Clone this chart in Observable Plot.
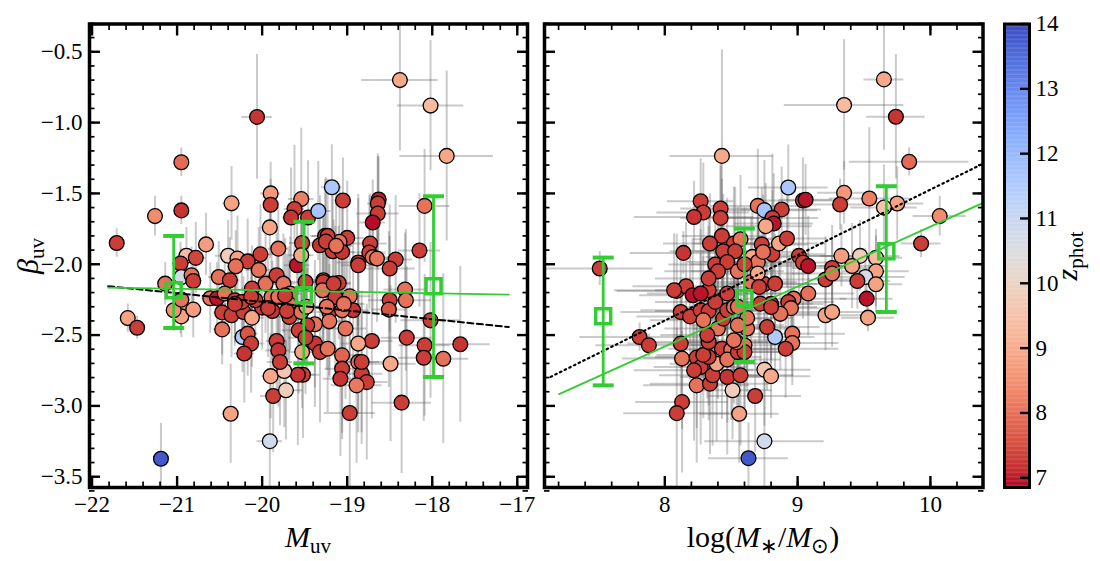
<!DOCTYPE html>
<html><head><meta charset="utf-8">
<script src="https://cdn.jsdelivr.net/npm/d3@7"></script>
<script src="https://cdn.jsdelivr.net/npm/@observablehq/plot@0.6"></script>
<style>
html,body{margin:0;padding:0;background:#fff;}
#wrap{position:relative;width:1100px;height:561px;overflow:hidden;font-family:"Liberation Serif","Times New Roman",serif;color:#000;}
#wrap svg text{font-family:"Liberation Serif","Times New Roman",serif;}
.lab{position:absolute;white-space:nowrap;font-size:30px;line-height:1;transform:translate(-50%,-50%);}
.lab.rot{transform:translate(-50%,-50%) rotate(-90deg);}
.lab sub{font-size:0.7em;vertical-align:-0.28em;line-height:0;}
.lab i{font-style:italic;}
</style></head><body><div id="wrap"></div>
<script>
// ---------------- data: left panel (M_uv vs beta) ----------------
const leftMuv = [
-20.06,-20.95,-21.26,-20.95,-21.71,-20.36,-19.90,-19.90,-19.91,-19.54,
-19.62,-19.66,-19.46,-20.66,-19.81,-20.02,-20.40,-20.29,-20.89,-20.78,
-20.17,-19.53,-18.38,-18.02,-17.83,-19.18,-19.34,-19.05,-18.63,-18.64,
-18.64,-18.70,-18.09,-19.26,-19.32,-19.00,-19.09,-19.17,-19.06,-18.73,
-18.74,-18.70,-18.87,-18.43,-18.15,-18.87,-18.50,-18.32,-18.31,-18.50,
-18.51,-19.28,-19.10,-19.14,-18.97,-18.93,-19.21,-19.06,-19.21,-19.38,
-19.02,-19.47,-18.02,-18.30,-18.71,-18.87,-17.67,-18.09,-18.10,-17.87,
-19.38,-19.32,-19.23,-19.06,-18.87,-18.49,-19.06,-19.08,-18.83,-18.77,
-18.89,-18.36,-18.97,-19.52,-19.58,-21.58,-21.47,-21.19,-20.37,-19.91,
-19.87,-19.72,-19.90,-19.74,-19.83,-19.81,-19.79,-20.23,-20.17,-20.13,
-20.21,-20.47,-20.47,-20.36,-20.22,-20.12,-20.00,-19.88,-19.68,-19.54,
-19.57,-19.49,-20.96,-20.95,-20.81,-21.04,-20.96,-20.95,-20.83,-20.81,
-21.14,-20.95,-20.51,-20.38,-20.31,-20.04,-19.96,-19.83,-19.75,-19.59,
-19.54,-19.67,-20.61,-20.53,-20.44,-20.32,-20.24,-20.08,-19.89,-20.12,
-19.69,-19.49,-19.53,-19.24,-19.28,-19.29,-19.16,-19.04,-20.13,-20.32,
-19.93,-19.71,-19.81,-19.73,-19.48,-19.23,-19.25,-19.13,-18.65,-18.83];
const leftBeta = [
-0.96,-1.28,-1.66,-1.62,-1.85,-1.57,-1.50,-1.58,-1.74,-1.54,
-1.61,-1.67,-1.67,-1.86,-1.89,-1.93,-1.94,-1.96,-1.94,-1.955,
-1.98,-1.85,-0.70,-0.88,-1.235,-1.456,-1.624,-1.55,-1.543,-1.571,
-1.642,-1.705,-1.588,-1.80,-1.866,-1.814,-1.842,-1.908,-1.913,-1.854,
-1.917,-1.95,-1.988,-1.967,-1.903,-2.007,-2.03,-2.179,-2.254,-2.254,
-2.32,-2.113,-2.132,-2.231,-2.226,-2.325,-2.337,-2.325,-2.403,-2.424,
-2.454,-2.431,-2.396,-2.518,-2.542,-2.56,-2.565,-2.572,-2.66,-2.667,
-2.56,-2.62,-2.596,-2.643,-2.69,-2.702,-2.737,-2.808,-2.773,-2.832,
-2.855,-2.977,-3.05,-2.78,-2.78,-2.38,-2.448,-3.373,-3.055,-3.249,
-2.93,-2.89,-2.79,-2.754,-2.542,-2.608,-2.69,-2.514,-2.49,-2.56,
-2.63,-2.46,-2.34,-2.36,-2.337,-2.377,-2.306,-2.33,-2.372,-2.337,
-2.466,-2.518,-2.29,-2.368,-2.32,-2.325,-1.995,-2.09,-2.078,-2.118,
-2.137,-2.25,-2.09,-2.113,-2.014,-2.04,-2.137,-2.078,-2.137,-2.007,
-1.936,-2.207,-2.24,-2.24,-2.207,-2.254,-2.266,-2.254,-2.231,-2.172,
-2.278,-2.125,-2.62,-2.30,-2.125,-2.184,-2.137,-2.28,-2.23,-2.28,
-2.31,-2.33,-2.23,-2.22,-2.30,-1.80,-1.84,-1.87,-1.96,-2.69];
const leftZ = [
7.2,7.9,8.4,7.2,7.3,8.8,8.6,7.3,8.8,8.2,
7.3,7.2,7.3,8.7,8.0,7.3,9.8,8.8,9.4,7.4,
7.3,7.4,8.9,9.3,8.9,11.6,11.7,7.3,7.0,7.3,
7.3,6.9,8.0,7.3,7.2,7.3,8.0,7.3,7.2,7.3,
7.3,8.0,7.2,7.3,7.3,7.3,7.3,8.0,8.0,7.3,
7.6,8.0,7.3,7.3,8.0,7.2,7.3,8.0,8.0,8.0,
8.0,7.3,7.3,7.3,7.3,8.9,7.2,7.3,7.3,8.0,
7.2,7.3,8.0,7.8,8.0,8.9,7.3,7.2,7.3,7.3,
8.1,7.3,7.3,7.3,7.2,8.8,7.3,13.8,8.8,10.8,
7.3,9.8,8.9,9.6,7.3,7.2,7.3,11.5,7.6,7.3,
7.2,8.0,7.3,7.3,7.3,8.8,7.3,7.2,7.3,8.0,
7.3,7.3,8.8,8.8,8.7,8.5,7.3,10.7,8.0,7.3,
8.0,8.0,8.0,7.3,8.0,8.0,8.0,7.3,8.0,6.95,
8.9,8.0,8.0,6.95,8.0,7.3,7.3,7.3,8.0,7.3,
8.0,7.3,8.8,8.0,7.3,8.0,7.3,8.0,7.3,7.3,
7.3,7.3,8.0,7.3,8.9,7.3,7.3,8.0,8.0,7.3];
const leftMuvErr = [
0.18,0.06,0.06,0.05,0.06,0.10,0.12,0.08,0.10,0.15,
0.12,0.10,0.12,0.08,0.12,0.15,0.15,0.10,0.10,0.12,
0.15,0.15,0.45,0.39,0.55,0.12,0.15,0.10,0.10,0.12,
0.25,0.15,0.30,0.15,0.15,0.20,0.15,0.20,0.15,0.20,
0.20,0.20,0.25,0.20,0.25,0.20,0.30,0.25,0.30,0.25,
0.20,0.20,0.15,0.20,0.25,0.20,0.15,0.20,0.15,0.20,
0.25,0.15,0.35,0.30,0.25,0.20,0.35,0.30,0.30,0.30,
0.15,0.20,0.20,0.25,0.25,0.30,0.20,0.20,0.25,0.25,
0.30,0.35,0.30,0.20,0.20,0.08,0.06,0.08,0.10,0.15,
0.15,0.20,0.10,0.15,0.12,0.15,0.15,0.10,0.12,0.15,
0.12,0.10,0.10,0.12,0.10,0.15,0.12,0.15,0.15,0.15,
0.20,0.20,0.08,0.08,0.10,0.08,0.06,0.08,0.10,0.10,
0.06,0.10,0.12,0.12,0.10,0.15,0.15,0.12,0.15,0.15,
0.15,0.15,0.10,0.10,0.12,0.12,0.12,0.15,0.15,0.12,
0.15,0.20,0.15,0.20,0.20,0.15,0.20,0.25,0.12,0.12,
0.15,0.15,0.15,0.15,0.20,0.20,0.15,0.20,0.25,0.25];
const leftBetaErr = [
0.44,0.10,0.14,0.10,0.10,0.26,0.22,0.18,0.22,0.50,
0.45,0.35,0.40,0.22,0.30,0.35,0.25,0.30,0.20,0.25,
0.30,0.35,0.50,0.46,0.60,0.30,0.35,0.30,0.30,0.35,
0.40,0.30,0.40,0.40,0.35,0.40,0.40,0.45,0.40,0.35,
0.40,0.40,0.45,0.45,0.40,0.50,0.45,0.40,0.50,0.45,
0.55,0.45,0.40,0.50,0.45,0.55,0.45,0.50,0.40,0.45,
0.50,0.40,0.55,0.50,0.55,0.50,0.55,0.50,0.45,0.60,
0.45,0.50,0.45,0.55,0.50,0.55,0.50,0.55,0.50,0.55,
0.55,0.50,0.60,0.45,0.50,0.10,0.08,0.25,0.35,0.50,
0.40,0.35,0.30,0.40,0.35,0.40,0.45,0.25,0.30,0.35,
0.35,0.25,0.30,0.30,0.25,0.35,0.30,0.35,0.40,0.45,
0.45,0.40,0.20,0.15,0.20,0.15,0.15,0.20,0.20,0.20,
0.15,0.20,0.25,0.30,0.25,0.30,0.35,0.30,0.35,0.40,
0.40,0.40,0.25,0.25,0.30,0.30,0.30,0.35,0.35,0.30,
0.40,0.45,0.40,0.45,0.45,0.40,0.45,0.50,0.30,0.30,
0.35,0.40,0.35,0.40,0.40,0.40,0.45,0.40,0.45,0.50];

// ---------------- data: right panel (log stellar mass vs beta) ----------------
const rightMass = [
8.43,8.93,8.27,8.42,8.29,8.22,8.42,8.70,8.75,8.88,
8.81,8.82,8.76,8.43,8.34,8.14,8.52,8.57,8.44,8.53,
8.38,8.47,8.66,8.70,8.73,8.81,8.74,8.86,8.92,7.51,
9.65,9.35,9.74,9.84,9.35,9.32,9.54,9.04,9.06,9.75,
9.65,10.07,9.93,9.01,9.04,9.08,9.26,9.33,9.47,9.41,
9.59,9.59,9.51,9.45,9.59,9.52,9.53,9.21,9.26,9.08,
8.97,8.93,8.95,9.21,9.26,8.83,8.96,8.96,8.91,8.75,
8.80,8.75,8.75,8.83,8.80,8.87,7.81,7.88,8.13,8.09,
8.63,8.56,8.68,8.51,8.12,8.13,8.24,8.27,8.24,8.34,
8.36,8.47,8.57,8.39,8.22,8.33,8.29,8.43,8.50,8.47,
8.55,8.60,8.60,8.54,8.33,8.09,8.16,8.21,8.12,8.19,
8.27,8.33,8.29,8.38,8.33,8.40,8.32,8.44,8.47,8.52,
8.62,8.62,8.52,8.47,8.65,8.70,8.71,8.72,8.80,8.77,
8.07,8.27,8.55,8.40,8.55,8.60,8.33,8.55];
const rightBeta = [
-1.235,-1.458,-1.555,-1.606,-1.635,-1.666,-1.673,-1.588,-1.618,-1.613,
-1.673,-1.712,-1.731,-1.80,-1.854,-1.92,-1.854,-1.823,-1.908,-1.908,
-2.002,-1.984,-1.948,-1.984,-1.86,-1.93,-1.913,-1.854,-1.818,-2.03,
-0.695,-0.876,-0.959,-1.277,-1.496,-1.578,-1.536,-1.55,-1.545,-1.571,
-1.60,-1.66,-1.854,-1.941,-1.988,-2.012,-2.026,-1.941,-1.941,-2.012,
-1.955,-2.05,-2.09,-2.118,-2.141,-2.243,-2.377,-2.108,-2.066,-2.207,
-2.243,-2.266,-2.31,-2.36,-2.337,-2.514,-2.49,-2.556,-2.596,-2.744,
-2.79,-3.249,-2.14,-2.137,-2.28,-2.35,-2.514,-2.572,-2.973,-3.051,
-3.369,-3.055,-2.93,-2.89,-2.56,-2.666,-2.659,-2.726,-2.855,-2.843,
-2.784,-2.796,-2.784,-2.702,-2.749,-2.655,-2.64,-2.596,-2.603,-2.673,
-2.62,-2.572,-2.62,-2.55,-2.549,-2.188,-2.155,-2.219,-2.337,-2.368,
-2.325,-2.33,-2.396,-2.266,-2.184,-2.454,-2.50,-2.384,-2.325,-2.302,
-2.454,-2.38,-2.537,-2.207,-2.125,-2.066,-2.16,-2.278,-2.302,-2.443,
-2.184,-2.207,-2.431,-2.05,-2.05,-2.00,-2.10,-2.30];
const rightZ = [
8.9,11.6,7.3,7.3,7.3,7.2,7.3,8.0,11.7,7.3,
7.3,6.95,8.9,7.3,7.3,7.2,7.3,8.0,7.3,7.3,
7.3,7.3,8.9,8.0,7.3,7.3,8.0,8.9,7.3,7.3,
8.9,9.3,7.2,7.9,8.6,7.3,8.2,7.3,6.95,8.8,
9.5,8.4,7.3,7.3,7.3,6.95,7.3,8.7,9.8,8.8,
9.3,8.8,10.7,7.3,8.8,6.95,8.8,7.3,8.0,8.0,
8.0,7.3,8.0,8.8,8.8,11.5,8.0,8.0,7.3,9.6,
8.9,10.8,7.3,7.3,7.3,8.0,7.3,7.3,7.3,7.3,
13.8,8.8,7.3,9.8,7.3,8.0,7.3,7.3,8.0,7.3,
7.3,7.2,7.3,8.8,7.3,7.3,7.3,7.3,8.0,8.0,
7.3,8.0,7.3,8.0,7.3,7.3,7.3,6.95,7.3,7.3,
7.3,7.3,8.0,7.3,7.3,8.0,7.3,7.3,7.3,8.0,
8.0,8.0,8.0,7.3,8.0,8.9,7.3,7.3,7.3,7.3,
7.3,6.95,8.0,7.3,8.0,7.3,7.3,8.0];
const rightMassErr = [
0.39,0.30,0.25,0.30,0.35,0.45,0.30,0.35,0.40,0.30,
0.35,0.30,0.35,0.30,0.35,0.40,0.30,0.35,0.40,0.30,
0.35,0.30,0.35,0.40,0.35,0.40,0.30,0.35,0.30,0.40,
0.15,0.45,0.22,0.45,0.20,0.25,0.30,0.35,0.20,0.20,
0.25,0.20,0.15,0.35,0.30,0.35,0.30,0.30,0.30,0.25,
0.20,0.25,0.30,0.25,0.20,0.20,0.20,0.35,0.30,0.35,
0.40,0.35,0.30,0.35,0.30,0.30,0.40,0.35,0.40,0.35,
0.30,0.45,0.40,0.35,0.40,0.35,0.45,0.40,0.35,0.40,
0.30,0.30,0.35,0.30,0.40,0.45,0.40,0.35,0.40,0.45,
0.40,0.35,0.40,0.35,0.45,0.40,0.35,0.40,0.35,0.40,
0.35,0.40,0.35,0.40,0.45,0.45,0.40,0.40,0.45,0.40,
0.45,0.40,0.40,0.45,0.40,0.40,0.35,0.40,0.40,0.35,
0.40,0.35,0.40,0.40,0.35,0.40,0.35,0.40,0.35,0.40,
0.45,0.40,0.35,0.40,0.35,0.40,0.40,0.35];
const rightBetaErr = [
0.75,0.30,0.30,0.30,0.35,0.25,0.40,0.40,0.35,0.30,
0.45,0.35,0.30,0.40,0.35,0.15,0.40,0.45,0.40,0.45,
0.40,0.45,0.40,0.35,0.40,0.45,0.40,0.30,0.35,0.12,
0.50,0.46,0.44,0.10,0.22,0.18,0.50,0.30,0.25,0.26,
0.30,0.14,0.10,0.35,0.40,0.35,0.30,0.22,0.25,0.30,
0.20,0.25,0.20,0.20,0.20,0.20,0.10,0.30,0.25,0.30,
0.35,0.30,0.35,0.25,0.25,0.25,0.30,0.30,0.35,0.40,
0.30,0.50,0.40,0.35,0.40,0.40,0.10,0.08,0.50,0.60,
0.25,0.35,0.40,0.35,0.45,0.50,0.50,0.55,0.55,0.50,
0.50,0.55,0.50,0.55,0.50,0.45,0.45,0.50,0.50,0.45,
0.50,0.45,0.40,0.45,0.45,0.40,0.45,0.40,0.40,0.45,
0.40,0.50,0.45,0.40,0.45,0.50,0.45,0.45,0.40,0.45,
0.45,0.40,0.45,0.40,0.45,0.40,0.40,0.45,0.40,0.45,
0.40,0.45,0.45,0.40,0.45,0.40,0.45,0.40];

// ---------------- binned medians (green) ----------------
const binLeftMuv = [-21.04, -19.51, -17.985];
const binLeftBeta = [-2.184, -2.219, -2.155];
const binLeftHi = [-1.80, -1.70, -1.52];
const binLeftLo = [-2.45, -2.70, -2.796];
const binRightMass = [7.536, 8.599, 9.668];
const binRightBeta = [-2.367, -2.238, -1.908];
const binRightHi = [-1.953, -1.748, -1.449];
const binRightLo = [-2.855, -2.69, -2.337];

// ---------------- fitted relations ----------------
const fitLeftMuv = [-21.81, -17.10];
const fitLeftGreen = [-2.165, -2.214];
const fitLeftBlack = [-2.155, -2.443];
const fitRightMass = [7.204, 10.396];
const fitRightGreen = [-2.917, -1.567];
const refRightMass = [7.14, 10.396];
const refRightBeta = [-2.795, -1.29];

// ---------------- ticks ----------------
const muvTicks = [-22, -21, -20, -19, -18, -17];
const massTicks = [8, 9, 10];
const betaTicks = [-3.5, -3.0, -2.5, -2.0, -1.5, -1.0, -0.5];
const zTicks = [7, 8, 9, 10, 11, 12, 13, 14];
const zMin = 6.85, zMax = 14.0;

// coolwarm (Moreland) control colors, low -> high
const coolwarm = ["#3b4cc0","#445acc","#4d68d7","#5775e1","#6282ea","#6c8ef1","#779af7","#82a5fb","#8db0fe","#98b9ff","#a3c2ff","#aec9fd","#b8d0f9","#c2d5f4","#ccd9ee","#d5dbe6","#dddddd","#e5d8d1","#ecd3c5","#f1ccb9","#f5c4ad","#f7bba0","#f7b194","#f7a687","#f49a7b","#f18d6f","#ec7f63","#e57058","#de604d","#d55042","#cb3e38","#c0282f","#b40426"];
const colorDomain = coolwarm.map((c, i) => zMax - (i / 32) * (zMax - zMin)).reverse();
const colorRange = coolwarm.slice().reverse();
const colorOpt = {type: "linear", domain: colorDomain, range: colorRange, clamp: true};

const leftData = leftMuv.map((m, i) => ({x: m, y: leftBeta[i], z: leftZ[i], xe: leftMuvErr[i], ye: leftBetaErr[i]}));
const rightData = rightMass.map((m, i) => ({x: m, y: rightBeta[i], z: rightZ[i], xe: rightMassErr[i], ye: rightBetaErr[i]}));
const binsLeft = binLeftMuv.map((m, i) => ({x: m, y: binLeftBeta[i], hi: binLeftHi[i], lo: binLeftLo[i]}));
const binsRight = binRightMass.map((m, i) => ({x: m, y: binRightBeta[i], hi: binRightHi[i], lo: binRightLo[i]}));
const fitLeft = fitLeftMuv.map((m, i) => ({x: m, g: fitLeftGreen[i], b: fitLeftBlack[i]}));
const fitRight = fitRightMass.map((m, i) => ({x: m, g: fitRightGreen[i]}));
const refRight = refRightMass.map((m, i) => ({x: m, b: refRightBeta[i]}));

const GREEN = "#32cd32";
const FONT = "Liberation Serif";
const capSym = {draw(ctx) { ctx.moveTo(-10.5, 0); ctx.lineTo(10.5, 0); }};
const boxSym = {draw(ctx) { ctx.rect(-7.5, -7.5, 15, 15); }};
const blank = () => "";

function tickMarks(xMajor, xMinor, yMajor, yMinor) {
  const maj = {tickSize: -11, tickFormat: blank, strokeWidth: 2.4, label: null};
  const min = {tickSize: -5.5, tickFormat: blank, strokeWidth: 1.7, label: null};
  return [
    Plot.axisX({...maj, ticks: xMajor, anchor: "bottom"}),
    Plot.axisX({...maj, ticks: xMajor, anchor: "top"}),
    Plot.axisX({...min, ticks: xMinor, anchor: "bottom"}),
    Plot.axisX({...min, ticks: xMinor, anchor: "top"}),
    Plot.axisY({...maj, ticks: yMajor, anchor: "left"}),
    Plot.axisY({...maj, ticks: yMajor, anchor: "right"}),
    Plot.axisY({...min, ticks: yMinor, anchor: "left"}),
    Plot.axisY({...min, ticks: yMinor, anchor: "right"})
  ];
}
function pointMarks(data) {
  const eb = {stroke: "#5a5a5a", strokeOpacity: 0.32, strokeWidth: 2, clip: true};
  return [
    Plot.ruleY(data, {y: "y", x1: d => d.x - d.xe, x2: d => d.x + d.xe, ...eb}),
    Plot.ruleX(data, {x: "x", y1: d => d.y - d.ye, y2: d => d.y + d.ye, ...eb}),
    Plot.dot(data, {x: "x", y: "y", r: 7.4, fill: "z", stroke: "#000", strokeWidth: 1.3, clip: true})
  ];
}
function binMarks(bins) {
  return [
    Plot.ruleX(bins, {x: "x", y1: "lo", y2: "hi", stroke: GREEN, strokeWidth: 2.8}),
    Plot.dot(bins, {x: "x", y: "hi", symbol: capSym, r: 5, stroke: GREEN, strokeWidth: 4, fill: "none"}),
    Plot.dot(bins, {x: "x", y: "lo", symbol: capSym, r: 5, stroke: GREEN, strokeWidth: 4, fill: "none"}),
    Plot.dot(bins, {x: "x", y: "y", symbol: boxSym, r: 5, stroke: GREEN, strokeWidth: 3.5, fill: "none"})
  ];
}
const betaMinor = d3.range(-3.6, -0.25, 0.1);
const yDomain = [-3.576, -0.304];
const baseStyle = {fontFamily: FONT, fontSize: "23px", overflow: "visible", background: "transparent", color: "#000"};
const labelText = {tickSize: 0, fontSize: 23, fontFamily: FONT, label: null, fill: "#000"};

const left = Plot.plot({
  width: 540, height: 561,
  marginLeft: 89, marginRight: 13, marginTop: 23.5, marginBottom: 74,
  x: {domain: [-22.03, -16.88], axis: null, label: null},
  y: {domain: yDomain, axis: null, label: null},
  color: colorOpt,
  style: baseStyle,
  marks: [
    ...pointMarks(leftData),
    Plot.line(fitLeft, {x: "x", y: "b", stroke: "#000", strokeWidth: 2, strokeDasharray: "6,3.5"}),
    Plot.line(fitLeft, {x: "x", y: "g", stroke: GREEN, strokeWidth: 1.8}),
    ...binMarks(binsLeft),
    ...tickMarks(muvTicks, d3.range(-22, -16.85, 0.2), betaTicks, betaMinor),
    Plot.axisX({...labelText, ticks: muvTicks, anchor: "bottom", tickPadding: 8, tickFormat: d3.format("d")}),
    Plot.axisY({...labelText, ticks: betaTicks, anchor: "left", tickPadding: 7, tickFormat: d3.format(".1f")}),
    Plot.frame({stroke: "#000", strokeWidth: 3.5})
  ]
});

const right = Plot.plot({
  width: 460, height: 561,
  marginLeft: 4, marginRight: 17.5, marginTop: 23.5, marginBottom: 74,
  x: {domain: [7.094, 10.396], axis: null, label: null},
  y: {domain: yDomain, axis: null, label: null},
  color: colorOpt,
  style: baseStyle,
  marks: [
    ...pointMarks(rightData),
    Plot.line(refRight, {x: "x", y: "b", stroke: "#000", strokeWidth: 2.2, strokeDasharray: "1.6,3.6", strokeLinecap: "round", clip: true}),
    Plot.line(fitRight, {x: "x", y: "g", stroke: GREEN, strokeWidth: 1.8, clip: true}),
    ...binMarks(binsRight),
    ...tickMarks(massTicks, d3.range(7.2, 10.4, 0.2), betaTicks, betaMinor),
    Plot.axisX({...labelText, ticks: massTicks, anchor: "bottom", tickPadding: 8, tickFormat: d3.format("d")}),
    Plot.frame({stroke: "#000", strokeWidth: 3.5})
  ]
});

const cbSteps = d3.range(zMin, zMax, 0.02);
const cbar = Plot.plot({
  width: 110, height: 561,
  marginLeft: 14, marginRight: 71, marginTop: 23.5, marginBottom: 74,
  x: {domain: [0, 1], axis: null, label: null},
  y: {domain: [zMin, zMax], axis: null, label: null},
  color: colorOpt,
  style: baseStyle,
  marks: [
    Plot.rect(cbSteps, {x1: 0, x2: 1, y1: d => d, y2: d => Math.min(d + 0.025, zMax), fill: d => d}),
    Plot.axisY({ticks: zTicks, anchor: "right", tickSize: -10, tickFormat: blank, strokeWidth: 2.4, label: null}),
    Plot.axisY({...labelText, ticks: zTicks, anchor: "right", tickPadding: 6, tickFormat: d3.format("d")}),
    Plot.frame({stroke: "#000", strokeWidth: 3})
  ]
});

const wrap = document.getElementById("wrap");
function place(el, x) { el.style.position = "absolute"; el.style.left = x + "px"; el.style.top = "0px"; wrap.appendChild(el); }
place(left, 0);
place(right, 540);
place(cbar, 990);

function label(html, cx, cy, rot) {
  const d = document.createElement("div");
  d.className = "lab" + (rot ? " rot" : "");
  d.innerHTML = html;
  d.style.left = cx + "px";
  d.style.top = cy + "px";
  wrap.appendChild(d);
}
label("<i>M</i><sub>uv</sub>", 308, 537, false);
label("log(<i>M</i><sub>∗</sub>/<i>M</i><sub>⊙</sub>)", 763, 537, false);
label("<i>β</i><sub>uv</sub>", 28, 256, true);
label("<i>z</i><sub>phot</sub>", 1067, 256, true);
</script></body></html>
